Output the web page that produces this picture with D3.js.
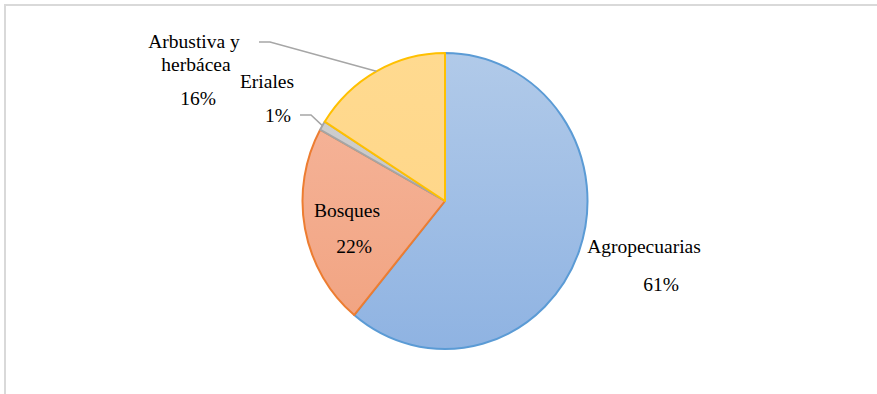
<!DOCTYPE html>
<html>
<head>
<meta charset="utf-8">
<script src="https://cdn.jsdelivr.net/npm/d3@7"></script>
<style>
  body { margin: 0; background: #fff; }
  svg { display: block; }
</style>
</head>
<body>
<svg id="chart" width="877" height="394" font-family="Liberation Serif"></svg>
<script>
// chart data
const categories = ["Agropecuarias", "Bosques", "Eriales", "Arbustiva y herbácea"];
const values = [61, 22, 1, 16];
const pctLabels = ["61%", "22%", "1%", "16%"];

// styling per slice
const fillTop = ["#b1cae9", "#f6b79e", "#d2d2d2", "#ffda90"];
const fillBottom = ["#8fb3e2", "#f1a27f", "#bdbdbd", "#ffd484"];
const strokes = ["#5b9bd5", "#ed7d31", "#a5a5a5", "#ffc000"];

const width = 877, height = 394;
const cx = 445, cy = 201;
const ry = 148, rx = 142.5;

const svg = d3.select("#chart");

// chart area frame (only top/left visible)
svg.append("rect")
  .attr("x", 5).attr("y", 5)
  .attr("width", 900).attr("height", 420)
  .attr("fill", "none")
  .attr("stroke", "#d9d9d9")
  .attr("stroke-width", 2);

const defs = svg.append("defs");
fillTop.forEach((c, i) => {
  const g = defs.append("linearGradient")
    .attr("id", "grad" + i)
    .attr("gradientUnits", "userSpaceOnUse")
    .attr("x1", 0).attr("y1", -ry).attr("x2", 0).attr("y2", ry);
  g.append("stop").attr("offset", "0%").attr("stop-color", c);
  g.append("stop").attr("offset", "100%").attr("stop-color", fillBottom[i]);
});

const pie = d3.pie().sort(null).value(d => d);
const arcs = pie(values);
const arc = d3.arc().innerRadius(0).outerRadius(ry);

const pieG = svg.append("g")
  .attr("transform", `translate(${cx},${cy}) scale(${rx / ry},1)`);

pieG.selectAll("path")
  .data(arcs)
  .enter()
  .append("path")
  .attr("d", arc)
  .attr("fill", (d, i) => `url(#grad${i})`)
  .attr("stroke", (d, i) => strokes[i])
  .attr("stroke-width", 2)
  .attr("vector-effect", "non-scaling-stroke")
  .attr("stroke-linejoin", "round");

// point on the pie edge at the mid angle of a slice
function edgePoint(d) {
  const a = (d.startAngle + d.endAngle) / 2;
  return [cx + Math.sin(a) * rx, cy - Math.cos(a) * ry];
}

// label layout: lines of text with their baselines
const labelLayout = [
  { lines: [["Agropecuarias", 644, 253], ["61%", 661, 291]] },
  { lines: [["Bosques", 347, 217], ["22%", 354, 253]] },
  { lines: [["Eriales", 267, 88], ["1%", 278, 122]], leader: [300, 115, 311] },
  { lines: [["Arbustiva y", 194, 48], ["herbácea", 196, 71], ["16%", 198, 105]], leader: [259, 42, 270] }
];

// leader lines
labelLayout.forEach((l, i) => {
  if (!l.leader) return;
  const [x0, y0, x1] = l.leader;
  const p = edgePoint(arcs[i]);
  svg.append("polyline")
    .attr("points", `${x0},${y0} ${x1},${y0} ${p[0]},${p[1]}`)
    .attr("fill", "none")
    .attr("stroke", "#a6a6a6")
    .attr("stroke-width", 1.5);
});

labelLayout.forEach((l, i) => {
  l.lines.forEach(([t, x, y], j) => {
    const txt = j === l.lines.length - 1 ? pctLabels[i] : t;
    svg.append("text")
      .attr("x", x).attr("y", y)
      .attr("text-anchor", "middle")
      .attr("font-family", "Liberation Serif")
      .attr("font-size", 19.5)
      .attr("fill", "#000")
      .text(txt);
  });
});
</script>
</body>
</html>
